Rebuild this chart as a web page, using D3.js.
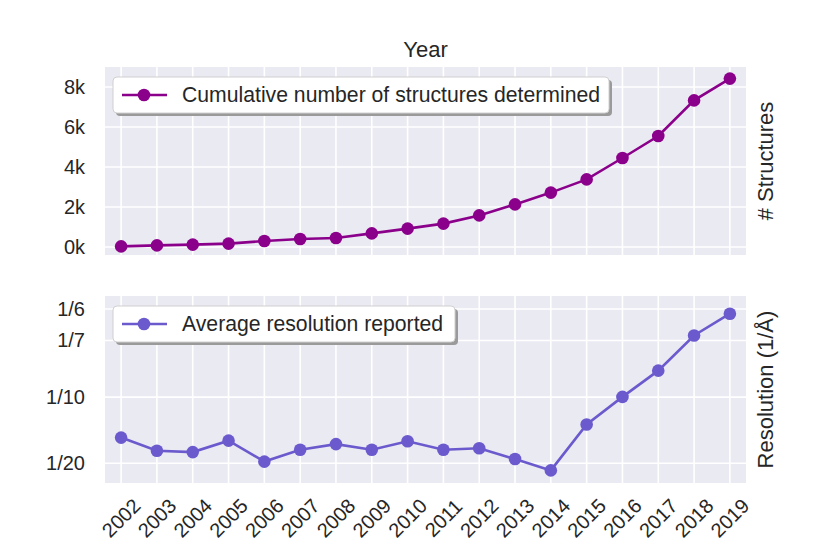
<!DOCTYPE html>
<html lang="en">
<head>
  <meta charset="UTF-8">
  <title>Structures and resolution by year</title>
  <script src="https://d3js.org/d3.v7.min.js"></script>
  <style>
    body { margin: 0; padding: 0; background: #fff; }
    svg { display: block; font-family: "Liberation Sans", Arial, sans-serif; }
    .grid line { stroke: #fff; stroke-width: 1.6; }
    .tick-label { fill: #262626; font-size: 20px; }
    .axis-label { fill: #262626; font-size: 22px; }
    .legend-text { fill: #262626; font-size: 21.2px; }
  </style>
</head>
<body>
<svg id="chart" width="830" height="554"></svg>

<script>
  // data
  const years = [2002, 2003, 2004, 2005, 2006, 2007, 2008, 2009, 2010,
                 2011, 2012, 2013, 2014, 2015, 2016, 2017, 2018, 2019];
  const structures = [30, 80, 120, 170, 300, 400, 450, 680, 920,
                      1170, 1580, 2130, 2720, 3380, 4450, 5550, 7330, 8420];
  // average resolution in angstrom, plotted as 1/res
  const resolution = [14.4, 16.8, 17.1, 14.9, 19.5, 16.6, 15.5, 16.6, 15.0,
                      16.6, 16.3, 18.8, 22.4, 12.6, 9.98, 8.33, 6.82, 6.13];
  const structTicks = [0, 2000, 4000, 6000, 8000];
  const resTicks = [6, 7, 10, 20];

  const topColor = "#8B008B";
  const botColor = "#6A5ACD";

  const svg = d3.select("#chart");
  const left = 105, right = 746;

  const x = d3.scaleLinear().domain([2001.55, 2019.45]).range([left, right]);
  const yTop = d3.scaleLinear().domain([-400, 9000]).range([255, 67]);
  const yBot = d3.scaleLinear().domain([0.0351, 0.1765]).range([483, 296]);

  function panel(y, ticks, tickValue, tickText, values, color, legendLabel, legendW, axisLabel) {
    const [y1, y0] = y.range();
    const g = svg.append("g");

    g.append("rect")
      .attr("x", left).attr("y", y0)
      .attr("width", right - left).attr("height", y1 - y0)
      .attr("fill", "#EAEAF2");

    const grid = g.append("g").attr("class", "grid");
    grid.selectAll(".vx").data(years).enter().append("line")
      .attr("x1", d => x(d)).attr("x2", d => x(d))
      .attr("y1", y0).attr("y2", y1);
    grid.selectAll(".hy").data(ticks).enter().append("line")
      .attr("x1", left).attr("x2", right)
      .attr("y1", d => y(tickValue(d))).attr("y2", d => y(tickValue(d)));

    g.selectAll(".yl").data(ticks).enter().append("text")
      .attr("class", "tick-label")
      .attr("x", 85)
      .attr("y", d => y(tickValue(d)))
      .attr("dy", "0.35em")
      .attr("text-anchor", "end")
      .text(tickText);

    const line = d3.line()
      .x((d, i) => x(years[i]))
      .y(d => y(d));

    g.append("path")
      .datum(values)
      .attr("fill", "none")
      .attr("stroke", color)
      .attr("stroke-width", 2.6)
      .attr("d", line);

    g.selectAll(".pt").data(values).enter().append("circle")
      .attr("cx", (d, i) => x(years[i]))
      .attr("cy", d => y(d))
      .attr("r", 6.3)
      .attr("fill", color);

    // legend, with shadow like matplotlib's
    const lx = 113, ly = y0 + 10, lh = 36;
    g.append("rect")
      .attr("x", lx + 3).attr("y", ly + 3)
      .attr("width", legendW).attr("height", lh)
      .attr("rx", 4).attr("fill", "#9a9a9a");
    g.append("rect")
      .attr("x", lx).attr("y", ly)
      .attr("width", legendW).attr("height", lh)
      .attr("rx", 4).attr("fill", "#fff")
      .attr("stroke", "#d0d0d0").attr("stroke-width", 1);
    g.append("line")
      .attr("x1", lx + 9).attr("x2", lx + 54)
      .attr("y1", ly + lh / 2).attr("y2", ly + lh / 2)
      .attr("stroke", color).attr("stroke-width", 2.6);
    g.append("circle")
      .attr("cx", lx + 31).attr("cy", ly + lh / 2)
      .attr("r", 6.3).attr("fill", color);
    g.append("text")
      .attr("class", "legend-text")
      .attr("x", lx + 69).attr("y", ly + lh / 2)
      .attr("dy", "0.35em")
      .text(legendLabel);

    g.append("text")
      .attr("class", "axis-label")
      .attr("transform", `translate(773,${(y0 + y1) / 2}) rotate(-90)`)
      .attr("text-anchor", "middle")
      .text(axisLabel);
  }

  panel(yTop, structTicks, d => d, d => (d / 1000) + "k",
        structures, topColor, "Cumulative number of structures determined", 496, "# Structures");

  panel(yBot, resTicks, d => 1 / d, d => "1/" + d,
        resolution.map(r => 1 / r), botColor, "Average resolution reported", 342, "Resolution (1/Å)");

  // top x label
  svg.append("text")
    .attr("class", "axis-label")
    .attr("x", (left + right) / 2)
    .attr("y", 57)
    .attr("text-anchor", "middle")
    .text("Year");

  // rotated year labels under the bottom panel
  svg.selectAll(".xl").data(years).enter().append("text")
    .attr("class", "tick-label")
    .attr("transform", d => `translate(${x(d)},518) rotate(-45)`)
    .attr("text-anchor", "middle")
    .attr("dy", "0.35em")
    .text(d => d);
</script>
</body>
</html>
